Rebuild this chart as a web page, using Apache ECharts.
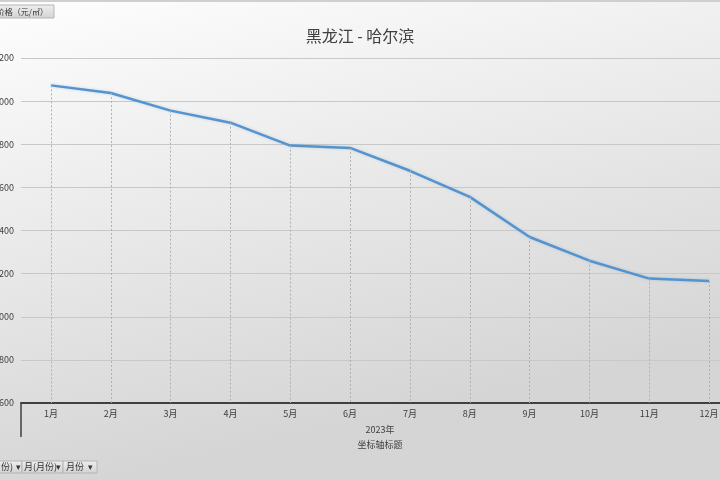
<!DOCTYPE html>
<html>
<head>
<meta charset="utf-8">
<script src="https://cdn.jsdelivr.net/npm/echarts@6/dist/echarts.min.js"></script>
<style>
  html, body { margin: 0; padding: 0; }
  #chart { width: 720px; height: 480px; }
</style>
</head>
<body>
<div id="chart"></div>
<script>
const months = ['1月', '2月', '3月', '4月', '5月', '6月', '7月', '8月', '9月', '10月', '11月', '12月'];
const prices = [9073, 9038, 8956, 8900, 8794, 8783, 8677, 8556, 8370, 8260, 8177, 8166];
const years = ['2023年'];
const yMin = 7600;
const yMax = 9200;
const yStep = 200;

const font = '"Noto Sans CJK SC", "Noto Sans", sans-serif';
const textColor = '#404040';

const chart = echarts.init(document.getElementById('chart'));

// drop lines from each point down to the axis
const dropLines = prices.map((v, i) => [
  { coord: [i, v] },
  { coord: [i, yMin] }
]);

// pivot field buttons, Excel style
const btnFill = {
  type: 'linear', x: 0, y: 0, x2: 0, y2: 1,
  colorStops: [{ offset: 0, color: '#efefef' }, { offset: 1, color: '#d2d2d2' }]
};
const btnStyle = { fill: btnFill, stroke: '#b5b5b5', lineWidth: 1 };
const btnText = (x, y, text, align, size) => ({
  type: 'text', x: x, y: y,
  style: { text: text, font: (size || 9) + 'px ' + font, fill: '#333', textAlign: align || 'left', textVerticalAlign: 'middle' }
});

const option = {
  backgroundColor: {
    type: 'linear', x: 0, y: 0, x2: 0.15, y2: 1,
    colorStops: [
      { offset: 0, color: '#fefefe' },
      { offset: 1, color: '#d5d5d5' }
    ]
  },
  animation: false,
  textStyle: { fontFamily: font },
  title: {
    text: '黑龙江 - 哈尔滨',
    left: 'center',
    top: 23,
    textStyle: { fontSize: 16, fontWeight: 'normal', color: textColor, fontFamily: font }
  },
  grid: { left: 21, width: 718, top: 58, height: 345, outerBoundsMode: 'none', containLabel: false },
  xAxis: [
    {
      type: 'category',
      data: months,
      boundaryGap: true,
      axisLine: { show: true, lineStyle: { color: '#404040', width: 2 } },
      axisTick: { show: false },
      axisLabel: { color: textColor, fontSize: 9, margin: 6 },
      name: '坐标轴标题',
      nameLocation: 'middle',
      nameGap: 37,
      nameTextStyle: { color: textColor, fontSize: 9 }
    },
    {
      type: 'category',
      data: years,
      position: 'bottom',
      boundaryGap: true,
      axisLine: { show: false },
      axisTick: { show: true, length: 34, lineStyle: { color: '#404040', width: 1.5 } },
      axisLabel: { color: textColor, fontSize: 9, margin: 22 },
      splitLine: { show: false }
    }
  ],
  yAxis: {
    type: 'value',
    min: yMin,
    max: yMax,
    interval: yStep,
    axisLine: { show: false },
    axisTick: { show: false },
    axisLabel: { color: textColor, fontSize: 9, margin: 7, formatter: (v) => String(v) },
    splitLine: { lineStyle: { color: '#c8c8c8', width: 1 } }
  },
  series: [
    {
      type: 'line',
      data: prices,
      symbol: 'none',
      lineStyle: { color: '#5593cd', width: 2.5, shadowColor: 'rgba(91,155,213,0.35)', shadowBlur: 3 },
      markLine: {
        silent: true,
        symbol: ['none', 'none'],
        label: { show: false },
        lineStyle: { color: '#b0b0b0', type: [2, 2], width: 1 },
        data: dropLines
      }
    }
  ],
  graphic: [
    { type: 'rect', left: 0, top: 0, shape: { width: 720, height: 2 }, style: { fill: '#cfcfcf' } },
    // value field button (top-left, cut off)
    { type: 'rect', shape: { x: -30, y: 5, width: 84, height: 13 }, style: btnStyle },
    btnText(48, 11.5, '求和项:价格（元/㎡）', 'right', 8),
    // axis field buttons (bottom-left)
    { type: 'rect', shape: { x: -30, y: 461, width: 52, height: 12 }, style: btnStyle },
    btnText(13, 467, '年(月份)', 'right'),
    btnText(16, 467, '▾'),
    { type: 'rect', shape: { x: 22, y: 461, width: 41, height: 12 }, style: btnStyle },
    btnText(24, 467, '月(月份)'),
    btnText(56, 467, '▾'),
    { type: 'rect', shape: { x: 63, y: 461, width: 34, height: 12 }, style: btnStyle },
    btnText(66, 467, '月份'),
    btnText(88, 467, '▾')
  ]
};

chart.setOption(option);
</script>
</body>
</html>
